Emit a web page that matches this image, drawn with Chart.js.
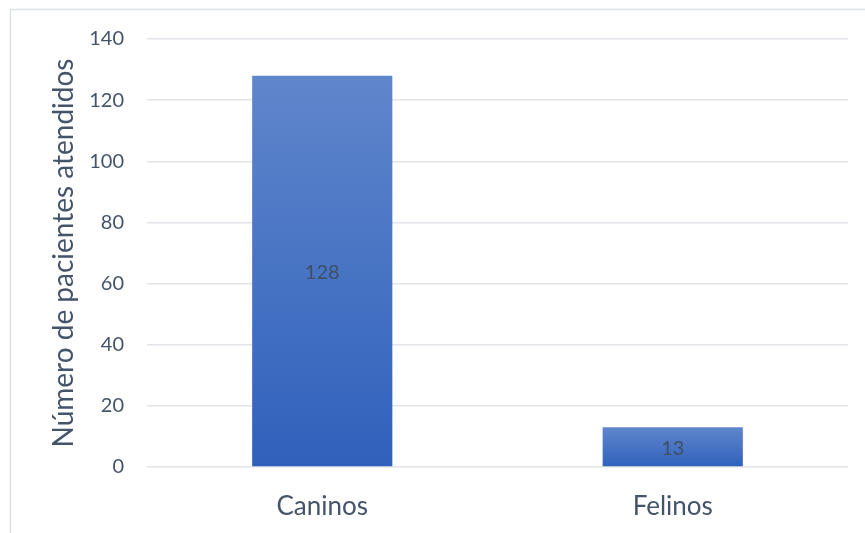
<!DOCTYPE html>
<html>
<head>
<meta charset="utf-8">
<script src="https://cdn.jsdelivr.net/npm/chart.js@4.4.1/dist/chart.umd.min.js"></script>
<style>
  html, body { margin: 0; padding: 0; background: #fff; }
  #wrap { width: 865px; height: 533px; }
</style>
</head>
<body>
<div id="wrap"><canvas id="chart" width="865" height="533"></canvas></div>
<script>
// data
const categories = ['Caninos', 'Felinos'];
const pacientes = [128, 13];
const yTicks = [0, 20, 40, 60, 80, 100, 120, 140];
const yTitle = 'Número de pacientes atendidos';

const textColor = '#44546A';
const gridColor = '#E1E4E8';
const fontFamily = 'Lato, "Open Sans", sans-serif';

// gradient per bar, light on top, darker at bottom
const barFill = (ctx) => {
  const chart = ctx.chart;
  const { chartArea, scales } = chart;
  if (!chartArea) return '#4472C4';
  const v = ctx.raw;
  const top = scales.y.getPixelForValue(v);
  const bottom = scales.y.getPixelForValue(0);
  const g = chart.ctx.createLinearGradient(0, top, 0, bottom);
  g.addColorStop(0, '#6086CC');
  g.addColorStop(1, '#2F61BB');
  return g;
};

const frame = {
  id: 'frame',
  beforeDraw(chart) {
    const c = chart.ctx;
    c.save();
    c.strokeStyle = '#DDE1E6';
    c.lineWidth = 1.5;
    c.strokeRect(10.5, 9.5, 870, 540);
    c.restore();
  }
};

const barLabels = {
  id: 'barLabels',
  afterDatasetsDraw(chart) {
    const c = chart.ctx;
    const meta = chart.getDatasetMeta(0);
    c.save();
    c.font = '20px ' + fontFamily;
    c.fillStyle = '#404F66';
    c.textAlign = 'center';
    c.textBaseline = 'middle';
    meta.data.forEach((bar, i) => {
      const y = (bar.y + bar.base) / 2;
      c.fillText(String(pacientes[i]), bar.x, y + 2);
    });
    c.restore();
  }
};

new Chart(document.getElementById('chart'), {
  type: 'bar',
  data: {
    labels: categories,
    datasets: [{
      data: pacientes,
      backgroundColor: barFill,
      borderWidth: 0,
      categoryPercentage: 1,
      barPercentage: 0.4
    }]
  },
  options: {
    responsive: false,
    animation: false,
    layout: { padding: { left: 10, right: 17, top: 39, bottom: 0 } },
    plugins: {
      legend: { display: false },
      tooltip: { enabled: false }
    },
    scales: {
      x: {
        grid: { display: false, drawTicks: false },
        border: { display: false },
        ticks: { color: textColor, font: { family: fontFamily, size: 26 }, padding: 24 },
        afterFit(s) { s.height = 66; }
      },
      y: {
        min: 0,
        max: 140,
        afterBuildTicks(s) { s.ticks = yTicks.map(v => ({ value: v })); },
        grid: { color: gridColor, lineWidth: 1.5, drawTicks: false },
        border: { display: false },
        ticks: { color: textColor, font: { family: fontFamily, size: 20 }, padding: 23 },
        title: {
          display: true,
          text: yTitle,
          color: textColor,
          font: { family: fontFamily, size: 28 },
          padding: { top: 37, bottom: 0 }
        },
        afterFit(s) { s.width = 137; }
      }
    }
  },
  plugins: [frame, barLabels]
});
</script>
</body>
</html>
